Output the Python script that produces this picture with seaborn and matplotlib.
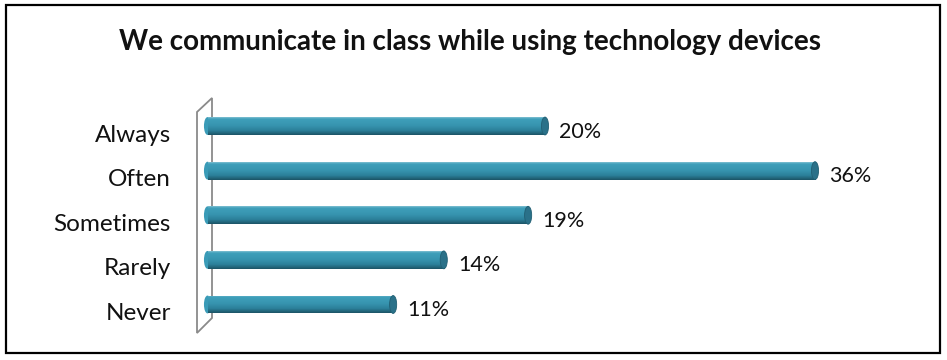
import numpy as np
import pandas as pd
import matplotlib
matplotlib.use("Agg")
import matplotlib.pyplot as plt
import matplotlib.transforms as mtransforms
import seaborn as sns
from matplotlib.patches import Ellipse, Rectangle, Polygon

categories = ["Always", "Often", "Sometimes", "Rarely", "Never"]
values = [20, 36, 19, 14, 11]
value_labels = ["20%", "36%", "19%", "14%", "11%"]
title = "We communicate in class while using technology devices"

sns.set_theme(style="white")
plt.rcParams["font.family"] = ["Lato", "DejaVu Sans"]

W, H = 947, 360
DPI = 100
fig = plt.figure(figsize=(W / DPI, H / DPI), dpi=DPI)

px_per_unit = 16.875
x0 = 207.5
top, bottom = 103.7, 326.8
ax = fig.add_axes([x0 / W, 1 - bottom / H, 40 * px_per_unit / W, (bottom - top) / H])
ax.set_zorder(1)

df = pd.DataFrame({"cat": categories, "val": values})
sns.barplot(data=df, x="val", y="cat", orient="h", color="#3795b0",
            width=0.4, ax=ax, saturation=1)

# cylinder-style shading on each bar
cmap = matplotlib.colors.LinearSegmentedColormap.from_list(
    "cyl", [(0.0, "#7fc0d2"), (0.1, "#3f9fba"), (0.45, "#3795b0"),
            (0.75, "#2c809a"), (1.0, "#1c5466")])
ys = np.linspace(0, 1, 64).reshape(-1, 1)
cap_w = 0.42
down = mtransforms.ScaledTranslation(0, -5.5 / DPI, fig.dpi_scale_trans)
for p, v, lab in zip(ax.patches, values, value_labels):
    x, y = p.get_x(), p.get_y()
    w, h = p.get_width(), p.get_height()
    p.set_edgecolor("none")
    im = ax.imshow(ys, cmap=cmap, vmin=0, vmax=1, aspect="auto",
                   extent=(x, x + w, y + h, y), zorder=3)
    im.set_clip_path(p)
    ax.add_patch(Ellipse((x, y + h / 2), cap_w, h, facecolor="#3a9bb7",
                         edgecolor="none", zorder=2, clip_on=False))
    ax.add_patch(Ellipse((x + w, y + h / 2), cap_w, h, facecolor="#2a7189",
                         edgecolor="#215f73", lw=0.6, zorder=4))
    ax.text(x + w + 0.85, y + h / 2, lab, va="center", ha="left",
            fontsize=15.5, color="#111111", transform=ax.transData + down)
ax.set_xlim(0, 40)
ax.set_ylim(4.5, -0.5)

ax.set_xlabel("")
ax.set_ylabel("")
ax.set_xticks([])
ax.tick_params(axis="y", length=0, pad=26.5, labelsize=17.5, labelcolor="#111111")
for t in ax.get_yticklabels():
    t.set_transform(t.get_transform() + mtransforms.ScaledTranslation(
        0, -7 / DPI, fig.dpi_scale_trans))
for s in ax.spines.values():
    s.set_visible(False)
ax.patch.set_alpha(0)


def fx(px):
    return px / W


def fy(py):
    return 1 - py / H


# side wall of the plot area, behind the bars
wall = Polygon([(fx(197), fy(112)), (fx(212), fy(98)), (fx(212), fy(318)),
                (fx(197), fy(333))], closed=True, facecolor="white",
               edgecolor="#8a8a8a", lw=1.3, transform=fig.transFigure, zorder=-1)
fig.patches.append(wall)

# outer frame
fig.patches.append(Rectangle((fx(6), fy(353)), fx(940) - fx(6), fy(5) - fy(353),
                             fill=False, edgecolor="black", lw=1.6,
                             transform=fig.transFigure, zorder=5))

fig.text(fx(470), fy(50), title, ha="center", va="baseline",
         fontsize=20, fontweight="bold", color="#111111")

fig.savefig("out.png", dpi=DPI)
